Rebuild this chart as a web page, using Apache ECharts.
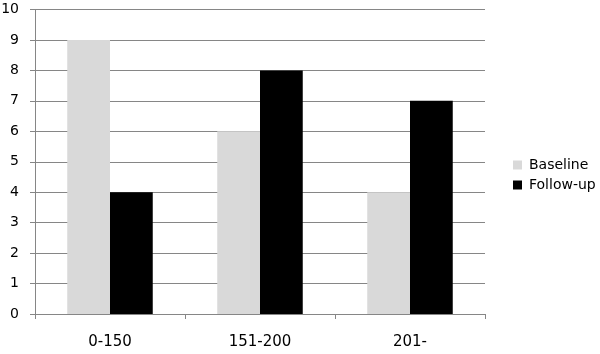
<!DOCTYPE html>
<html><head><meta charset="utf-8">
<script src="https://cdn.jsdelivr.net/npm/echarts@6/dist/echarts.min.js"></script>
<style>html,body{margin:0;padding:0;background:#fff}#c{width:600px;height:354px}</style>
</head><body><div id="c"></div>
<script>
const categories = ['0-150', '151-200', '201-'];
const baseline = [9, 6, 4];
const followUp = [4, 8, 7];
const seriesNames = ['Baseline', 'Follow-up'];

const chart = echarts.init(document.getElementById('c'), null, {renderer: 'canvas'});
const font = "'DejaVu Sans', sans-serif";
chart.setOption({
  animation: false,
  grid: {left: 35, right: 115, top: 9.5, bottom: 40, containLabel: false, outerBoundsMode: 'none'},
  legend: {
    orient: 'vertical', left: 508, top: 153,
    itemWidth: 9, itemHeight: 9, itemGap: 6,
    icon: 'rect',
    textStyle: {fontFamily: font, fontSize: 14, lineHeight: 14, color: '#000', padding: [0,0,0,2]},
    data: seriesNames
  },
  xAxis: {
    type: 'category', data: categories, boundaryGap: true,
    axisLine: {lineStyle: {color: '#868686', width: 1}},
    axisTick: {show: true, length: 5, lineStyle: {color: '#868686'}},
    axisLabel: {fontFamily: font, fontSize: 15, color: '#000', margin: 21}
  },
  yAxis: {
    type: 'value', min: 0, max: 10, interval: 1,
    axisLine: {show: true, lineStyle: {color: '#868686', width: 1}},
    axisTick: {show: true, length: 5, lineStyle: {color: '#868686'}},
    splitLine: {show: true, lineStyle: {color: '#868686', width: 1}},
    axisLabel: {fontFamily: font, fontSize: 14, color: '#000', margin: 16}
  },
  series: [
    {name: seriesNames[0], type: 'bar', data: baseline, barGap: '0%', barCategoryGap: '43%',
     itemStyle: {color: '#d9d9d9'}},
    {name: seriesNames[1], type: 'bar', data: followUp, barGap: '0%', barCategoryGap: '43%',
     itemStyle: {color: '#000000'}}
  ]
});
</script></body></html>
